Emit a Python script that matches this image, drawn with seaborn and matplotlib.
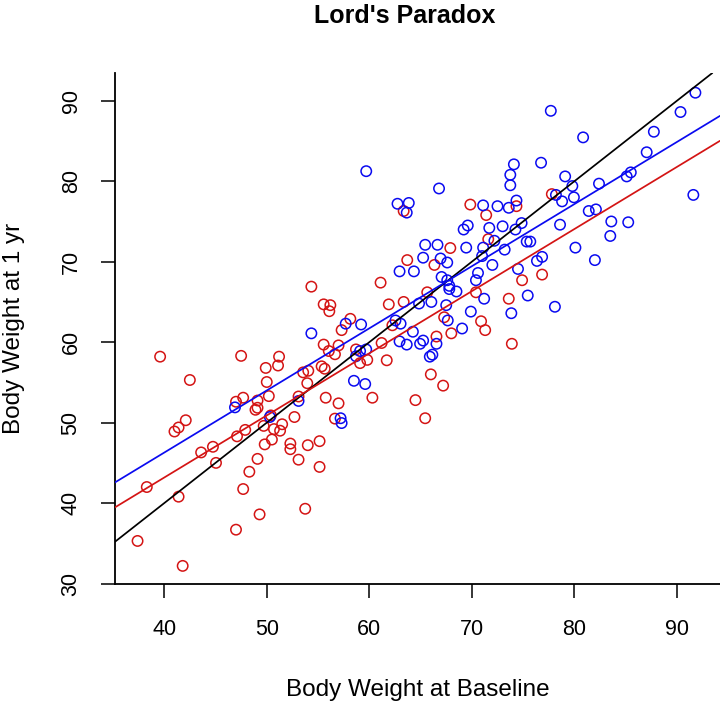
import matplotlib
matplotlib.use("Agg")
import matplotlib.pyplot as plt
import seaborn as sns
import pandas as pd

# ---------------- data ----------------
red_x = [37.4, 38.3, 39.6, 41.4, 41.8, 41.0, 41.4, 42.1, 42.5, 43.6, 44.75, 45.05,
         47.0, 47.0, 47.1, 47.7, 47.5, 47.7, 47.9, 48.3, 49.1, 49.3, 48.9, 49.1, 49.1,
         49.7, 49.8, 49.9, 50.0, 50.2, 50.5, 50.7, 51.1, 51.2, 50.4, 51.3, 51.5, 52.3,
         52.3, 52.7, 53.1, 53.1, 53.75, 53.55, 54.05, 53.95, 54.0, 54.35, 55.15, 55.15,
         55.35, 55.65, 55.75, 55.55, 55.55, 56.2, 56.1, 56.05, 56.65, 56.65, 57.0, 57.0,
         57.3, 58.15, 58.7, 59.1, 59.8, 60.3, 61.1, 61.2, 61.7, 61.9, 62.25, 63.35,
         63.35, 63.7, 64.5, 65.45, 65.65, 66.0, 66.35, 66.55, 67.2, 67.3, 67.9, 68.0,
         69.85, 70.4, 70.9, 71.3, 71.4, 71.6, 73.6, 73.9, 74.35, 74.9, 76.85, 77.8]
red_y = [35.3, 42.0, 58.2, 40.8, 32.2, 48.9, 49.4, 50.3, 55.3, 46.3, 47.0, 45.0,
         36.7, 52.6, 48.3, 53.1, 58.3, 41.75, 49.1, 43.9, 45.5, 38.6, 51.6, 51.85, 52.75,
         49.6, 47.3, 56.8, 55.05, 53.3, 47.9, 49.2, 57.1, 58.2, 50.9, 49.0, 49.8, 47.4,
         46.7, 50.7, 45.4, 53.25, 39.3, 56.25, 56.45, 54.9, 47.2, 66.9, 47.7, 44.5,
         57.0, 56.7, 53.1, 59.7, 64.7, 64.6, 63.85, 58.9, 58.5, 50.5, 52.4, 59.6,
         61.5, 62.9, 59.1, 57.4, 57.8, 53.1, 67.4, 59.9, 57.75, 64.7, 62.1, 65.0,
         76.3, 70.2, 52.8, 50.55, 66.2, 56.0, 69.6, 60.7, 54.6, 63.1, 71.7, 61.1,
         77.1, 66.2, 62.6, 61.5, 75.8, 72.8, 65.4, 59.8, 76.9, 67.7, 68.4, 78.4]

blue_x = [46.9, 50.3, 53.1, 54.35, 57.2, 57.3, 58.5, 59.6, 58.7, 59.1, 59.7, 57.7,
          59.2, 59.7, 62.55, 63.05, 62.95, 63.65, 64.25, 64.95, 65.25, 66.55, 65.9,
          66.15, 64.85, 66.05, 67.5, 62.95, 64.35, 65.25, 65.45, 66.65, 66.95, 67.6,
          67.05, 67.6, 67.8, 67.8, 68.5, 67.65, 69.05, 69.9, 70.4, 70.6, 71.2, 72.0,
          71.0, 71.1, 72.2, 73.2, 69.45, 69.2, 69.6, 71.7, 73.0, 74.25, 74.85, 75.35,
          75.7, 74.5, 75.45, 73.85, 76.35, 76.85, 78.1, 80.1, 82.0, 78.6, 78.8, 79.95,
          79.8, 79.1, 78.2, 81.4, 82.1, 82.4, 83.5, 83.6, 85.25, 85.1, 85.5, 87.05,
          87.75, 90.35, 91.8, 91.6, 80.85, 77.7, 76.75, 74.1, 73.75, 73.75, 74.35,
          71.1, 72.5, 73.6, 66.8, 62.75, 63.85, 63.65]
blue_y = [51.9, 50.7, 52.7, 61.1, 50.55, 49.95, 55.2, 54.8, 58.25, 58.9, 59.1, 62.3,
          62.2, 81.25, 62.7, 62.3, 60.1, 59.7, 61.3, 59.8, 60.2, 59.8, 58.2,
          58.45, 64.8, 65.0, 64.6, 68.8, 68.8, 70.5, 72.1, 72.1, 70.4, 69.9,
          68.1, 67.7, 67.0, 66.6, 66.3, 62.7, 61.7, 63.8, 67.7, 68.6, 65.4, 69.6,
          70.7, 71.75, 72.6, 71.5, 71.75, 74.0, 74.5, 74.2, 74.4, 74.0, 74.8, 72.5,
          72.5, 69.1, 65.8, 63.6, 70.1, 70.6, 64.4, 71.75, 70.2, 74.6, 77.5, 78.0,
          79.4, 80.6, 78.3, 76.3, 76.5, 79.7, 73.2, 75.0, 74.9, 80.6, 81.1, 83.6,
          86.15, 88.6, 91.0, 78.3, 85.45, 88.75, 82.3, 82.1, 80.8, 79.5, 77.6,
          77.0, 76.9, 76.7, 79.1, 77.2, 77.3, 76.1]

# fitted lines (intercept, slope): identity, blue group, red group
line_names = ["identity", "blue", "red"]
line_intercepts = [0.0, 15.4, 12.3]
line_slopes = [1.0, 0.772, 0.772]

title = "Lord's Paradox"
x_label = "Body Weight at Baseline"
y_label = "Body Weight at 1 yr"
x_ticks = [40, 50, 60, 70, 80, 90]
y_ticks = [30, 40, 50, 60, 70, 80, 90]

# ---------------- styling ----------------
RED = "#D41414"
BLUE = "#0A0AF0"

sns.set_theme(style="ticks")
plt.rcParams["font.family"] = ["Liberation Sans", "DejaVu Sans"]

df = pd.DataFrame({
    "x": red_x + blue_x,
    "y": red_y + blue_y,
    "group": ["red"] * len(red_x) + ["blue"] * len(blue_x),
})

fig = plt.figure(figsize=(7.2, 7.06), dpi=100)
ax = fig.add_axes([115 / 720, 1 - 584 / 706, 605 / 720, (584 - 73) / 706])

sns.scatterplot(data=df, x="x", y="y", hue="group",
                palette={"red": RED, "blue": BLUE},
                marker="o", s=56, facecolors="none", linewidth=1.1,
                legend=False, ax=ax)
# open circles: set edge colour from hue
coll = ax.collections[0]
coll.set_edgecolors([RED if g == "red" else BLUE for g in df["group"]])
coll.set_facecolors("none")

line_colors = {"identity": "black", "blue": BLUE, "red": RED}
for name, b0, b1 in zip(line_names, line_intercepts, line_slopes):
    ax.axline((0, b0), slope=b1, color=line_colors[name], lw=1.25, zorder=3)

ax.set_xlim(35.2, 94.2)
ax.set_ylim(29.95, 93.45)
ax.set_xticks(x_ticks)
ax.set_yticks(y_ticks)
ax.set_xticklabels([str(t) for t in x_ticks])
ax.set_yticklabels([str(t) for t in y_ticks], rotation=90, va="center")

for side in ["top", "right"]:
    ax.spines[side].set_visible(False)
for side in ["left", "bottom"]:
    ax.spines[side].set_linewidth(1.3)
    ax.spines[side].set_color("black")

ax.tick_params(axis="both", length=10, width=1.1, color="black",
               labelsize=15.5, labelcolor="black")
ax.tick_params(axis="x", pad=15)
ax.tick_params(axis="y", pad=14)

ax.set_xlabel(x_label, fontsize=17.5, color="black")
ax.set_ylabel(y_label, fontsize=17.5, color="black")
ax.xaxis.set_label_coords(0.5, -0.207)
ax.xaxis.label.set_verticalalignment("center")
ax.yaxis.set_label_coords(-0.167, 0.5)
ax.yaxis.label.set_verticalalignment("center")

fig.text(405 / 720, 1 - 16 / 706, title, ha="center", va="center",
         fontsize=18, fontweight="bold", color="black")

fig.savefig("out.png", dpi=100)
